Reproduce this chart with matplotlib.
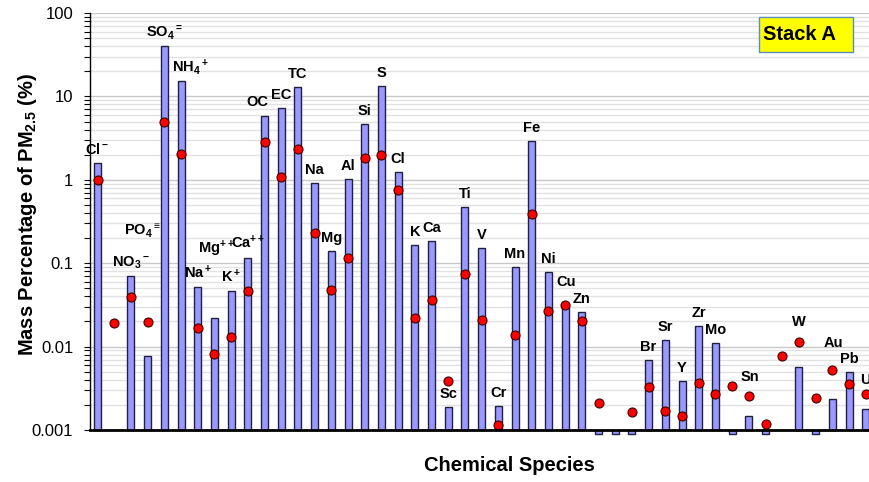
import matplotlib
matplotlib.use("Agg")
import matplotlib.pyplot as plt
import numpy as np
from matplotlib.ticker import LogLocator, FixedLocator, FixedFormatter, NullFormatter
from matplotlib.patches import FancyBboxPatch

plt.rcParams['font.family'] = ['Liberation Sans', 'DejaVu Sans']
plt.rcParams['mathtext.fontset'] = 'custom'
plt.rcParams['mathtext.rm'] = 'Liberation Sans:bold'
plt.rcParams['mathtext.it'] = 'Liberation Sans:bold'
plt.rcParams['mathtext.bf'] = 'Liberation Sans:bold'

nan = np.nan

# species names (blank = unlabelled position)
species = ['Cl-', '', 'NO3-', 'PO4', 'SO4', 'NH4', 'Na+', 'Mg++', 'K+', 'Ca++',
           'OC', 'EC', 'TC', 'Na', 'Mg', 'Al', 'Si', 'S', 'Cl', 'K',
           'Ca', 'Sc', 'Ti', 'V', 'Cr', 'Mn', 'Fe', 'Ni', 'Cu', 'Zn',
           '', '', '', 'Br', 'Sr', 'Y', 'Zr', 'Mo', '', 'Sn',
           '', '', 'W', '', 'Au', 'Pb', 'U']

# how each name is printed above its bar
label_text = {
    'Cl-': r'$\mathrm{Cl^-}$', 'NO3-': r'$\mathrm{NO_3{}^-}$',
    'PO4': r'$\mathrm{PO_4{}^{\equiv}}$', 'SO4': r'$\mathrm{SO_4{}^=}$',
    'NH4': r'$\mathrm{NH_4{}^+}$', 'Na+': r'$\mathrm{Na^+}$',
    'Mg++': r'$\mathrm{Mg^{++}}$', 'K+': r'$\mathrm{K^+}$',
    'Ca++': r'$\mathrm{Ca^{++}}$',
}

# mass percentage (bars), values under 0.001 hang below the axis
abundance = [1.60, nan, 0.0703, 0.00778, 40.2, 15.4, 0.0519, 0.0222, 0.0464, 0.1164,
             5.87, 7.32, 13.1, 0.916, 0.139, 1.02, 4.71, 13.4, 1.23, 0.167,
             0.186, 0.00187, 0.472, 0.151, 0.00192, 0.0893, 2.89, 0.0784, 0.033, 0.0262,
             0.0009, 0.0009, 0.0009, 0.00685, 0.0120, 0.00390, 0.0175, 0.01114, 0.0009, 0.00147,
             0.0009, nan, 0.00574, 0.0009, 0.00235, 0.0050, 0.00179]

# uncertainty (red dots)
uncert = [1.0, 0.0194, 0.0394, 0.0199, 4.97, 2.04, 0.01686, 0.00815, 0.0130, 0.0464,
          2.86, 1.07, 2.34, 0.232, 0.0473, 0.1164, 1.83, 1.96, 0.762, 0.0220,
          0.0362, 0.00387, 0.0736, 0.0207, 0.00116, 0.0136, 0.385, 0.0267, 0.0318, 0.0205,
          0.00209, nan, 0.00164, 0.00328, 0.00170, 0.00147, 0.00369, 0.00268, 0.0034, 0.00258,
          0.00117, 0.00778, 0.01135, 0.00242, 0.0052, 0.00356, 0.00272]

# label nudges in pixels (dx, height of baseline above bar top)
label_shift = {'PO4': (-5, 120), 'NH4': (9, 9), 'Mg++': (2, 64), 'OC': (-7, 10),
               'Cu': (1, 17), 'Sn': (1, 35), 'W': (0, 41), 'Au': (1, 52), 'U': (0, 25)}

base = 0.001
x = np.arange(len(species))
abundance = np.asarray(abundance)
uncert = np.asarray(uncert)

fig = plt.figure(figsize=(8.7, 4.82), dpi=100)
ax = fig.add_axes([90 / 870, 52 / 482, 47 * 16.7 / 870, 417 / 482])

ax.set_yscale('log')
ax.set_ylim(base, 100)
ax.set_xlim(-0.45, len(species) - 0.45)

ax.bar(x, abundance - base, bottom=base, width=0.42, color='#9999ff',
       edgecolor='#202040', linewidth=1.0, zorder=2, clip_on=False)
ax.plot(x, uncert, 'o', ms=6.5, mfc='#ff0000', mec='#400000', mew=0.8,
        zorder=3, clip_on=False)

# labels above the bars
px = 0.72  # points per pixel at 100 dpi
for i, name in enumerate(species):
    if not name:
        continue
    dx, dy = label_shift.get(name, (0, 9))
    ax.annotate(label_text.get(name, name), xy=(i, abundance[i]),
                xytext=(dx * px, dy * px), textcoords='offset points',
                ha='center', va='baseline', fontsize=10.5, fontweight='bold',
                zorder=4, annotation_clip=False)

# axes styling
ax.yaxis.set_major_locator(FixedLocator([0.001, 0.01, 0.1, 1, 10, 100]))
ax.yaxis.set_major_formatter(FixedFormatter(['0.001', '0.01', '0.1', '1', '10', '100']))
ax.yaxis.set_minor_locator(LogLocator(base=10, subs=np.arange(2, 10)))
ax.yaxis.set_minor_formatter(NullFormatter())
ax.tick_params(axis='y', which='both', direction='out', length=4, width=0.8,
               labelsize=12, pad=8)
ax.tick_params(axis='x', which='both', bottom=False, labelbottom=False)
ax.yaxis.grid(True, which='major', color='#c8c8c8', lw=1.0)
ax.yaxis.grid(True, which='minor', color='#e2e2e2', lw=1.0)
ax.set_axisbelow(True)

for side in ['top', 'right']:
    ax.spines[side].set_visible(False)
ax.spines['left'].set_linewidth(1.0)
ax.spines['bottom'].set_linewidth(2.0)
ax.spines['bottom'].set_zorder(5)

ax.set_ylabel(r'Mass Percentage of PM$_{2.5}$ (%)', fontsize=14.5,
              fontweight='bold', va='center')
ax.yaxis.set_label_coords(-0.079, 0.516)
ax.set_xlabel('Chemical Species', fontsize=14.5, fontweight='bold', va='center')
ax.xaxis.set_label_coords(0.535, -0.086)

# title box
box = FancyBboxPatch((759 / 870, (482 - 52) / 482), 94 / 870, 35 / 482,
                     boxstyle='square,pad=0', transform=fig.transFigure,
                     facecolor='#ffff00', edgecolor='#5b8db8', lw=1.0, zorder=10)
fig.patches.append(box)
fig.text(763 / 870, (482 - 35) / 482, 'Stack A', fontsize=14.5, fontweight='bold',
         va='center', ha='left', zorder=11)

fig.savefig('out.png', dpi=100)
